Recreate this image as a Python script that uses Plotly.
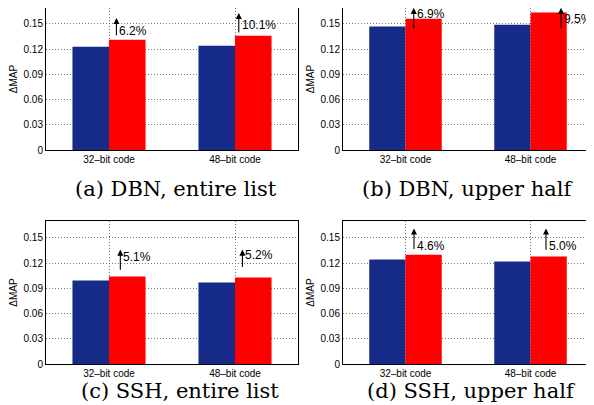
import plotly.graph_objects as go

# ---------------- data ----------------
categories = ["32–bit code", "48–bit code"]
captions = ["(a) DBN, entire list", "(b) DBN, upper half",
            "(c) SSH, entire list", "(d) SSH, upper half"]
baseline_a = [0.1226, 0.1238]
improved_a = [0.1310, 0.1357]
baseline_b = [0.1468, 0.1488]
improved_b = [0.1560, 0.1635]
baseline_c = [0.0993, 0.0969]
improved_c = [0.1040, 0.1028]
baseline_d = [0.1242, 0.1218]
improved_d = [0.1300, 0.1278]
gain_a = ["6.2%", "10.1%"]
gain_b = ["6.9%", "9.5%"]
gain_c = ["5.1%", "5.2%"]
gain_d = ["4.6%", "5.0%"]
ytick_vals = [0, 0.03, 0.06, 0.09, 0.12, 0.15]
ytick_text = ["0", "0.03", "0.06", "0.09", "0.12", "0.15"]

baselines = [baseline_a, baseline_b, baseline_c, baseline_d]
improved = [improved_a, improved_b, improved_c, improved_d]
gains = [gain_a, gain_b, gain_c, gain_d]

# ---------------- layout / style ----------------
PAGE_OFF = 8                      # default body margin of the html page
W, H = 594 - PAGE_OFF, 405 - PAGE_OFF
BLUE = "rgb(22,42,136)"
RED = "rgb(255,0,0)"
SANS = "Liberation Sans, Arial, sans-serif"
SERIF = "DejaVu Serif, serif"
YMAX = 0.17

# plot areas in window pixels (left, right, top, bottom)
boxes = [(46, 298, 7, 150), (343, 593, 7, 150),
         (46, 298, 221, 364), (343, 593, 221, 364)]
caption_pos = [(176, 189), (467, 189), (180, 391), (471, 391)]


def px(x):
    return min(max((x - PAGE_OFF) / W, 0.0), 1.0)


def py(y):
    return min(max(1 - (y - PAGE_OFF) / H, 0.0), 1.0)


# arrow styling per panel/category: (x offset, tail offset, head offset, text offset)
arrow_style = [
    [(0.059, 0.0035, 0.026, 0.0107), (0.030, 0.0023, 0.0273, 0.0133)],
    [(0.066, -0.0131, 0.013, 0.0055), (0.244, -0.0206, 0.0055, -0.0075)],
    [(0.090, 0.0063, 0.032, 0.0238), (0.059, 0.0107, 0.0332, 0.0262)],
    [(0.068, 0.0049, 0.031, 0.0108), (0.124, 0.0062, 0.0332, 0.013)],
]

fig = go.Figure()
annotations = []
xpos = [i + 1 for i in range(len(categories))]

for p in range(4):
    sfx = "" if p == 0 else str(p + 1)
    xa, ya = "x" + sfx, "y" + sfx
    fig.add_trace(go.Bar(x=xpos, y=baselines[p], marker_color=BLUE,
                         marker_line_width=0, xaxis=xa, yaxis=ya,
                         showlegend=False))
    fig.add_trace(go.Bar(x=xpos, y=improved[p], marker_color=RED,
                         marker_line_width=0, xaxis=xa, yaxis=ya,
                         showlegend=False))
    l, r, t, b = boxes[p]
    t_eff = max(t, PAGE_OFF)
    ytop = YMAX * (b - t_eff) / (b - t)
    common = dict(showline=True, mirror=True, linecolor="black", linewidth=1,
                  showgrid=True, gridcolor="rgb(120,120,120)", griddash="1px,2px",
                  gridwidth=0.8, zeroline=False, ticks="", automargin=False,
                  tickfont=dict(family=SANS, size=10, color="black"))
    fig.layout["xaxis" + sfx] = dict(
        domain=[px(l), px(r)], anchor=ya, range=[0.5, 2.5],
        tickvals=xpos, ticktext=categories, **common)
    fig.layout["yaxis" + sfx] = dict(
        domain=[py(b), py(t_eff)], anchor=xa, range=[0, ytop],
        tickvals=ytick_vals, ticktext=ytick_text,
        title=dict(text="ΔMAP", font=dict(family=SANS, size=10, color="black"),
                   standoff=4),
        **common)
    for i, xc in enumerate(xpos):
        dx, dtail, dhead, dtext = arrow_style[p][i]
        v = improved[p][i]
        annotations.append(dict(
            x=xc + dx, y=v + dhead, ax=xc + dx, ay=v + dtail,
            xref=xa, yref=ya, axref=xa, ayref=ya, text="",
            showarrow=True, arrowhead=2, arrowsize=1.1, arrowwidth=1.1,
            arrowcolor="black"))
        annotations.append(dict(
            x=xc + dx, y=v + dtext, xref=xa, yref=ya, text=gains[p][i],
            showarrow=False, xanchor="left", yanchor="middle", xshift=1,
            font=dict(family=SANS, size=12, color="black")))
    cx, cy = caption_pos[p]
    annotations.append(dict(
        x=px(cx), y=py(cy), xref="paper", yref="paper", text=captions[p],
        showarrow=False, xanchor="center", yanchor="middle",
        font=dict(family=SERIF, size=21, color="black")))

fig.update_layout(
    width=W, height=H, margin=dict(l=0, r=0, t=0, b=0, autoexpand=False),
    paper_bgcolor="white", plot_bgcolor="white",
    barmode="group", bargap=0.42, bargroupgap=0,
    annotations=annotations,
)

fig.write_html("out.html")
